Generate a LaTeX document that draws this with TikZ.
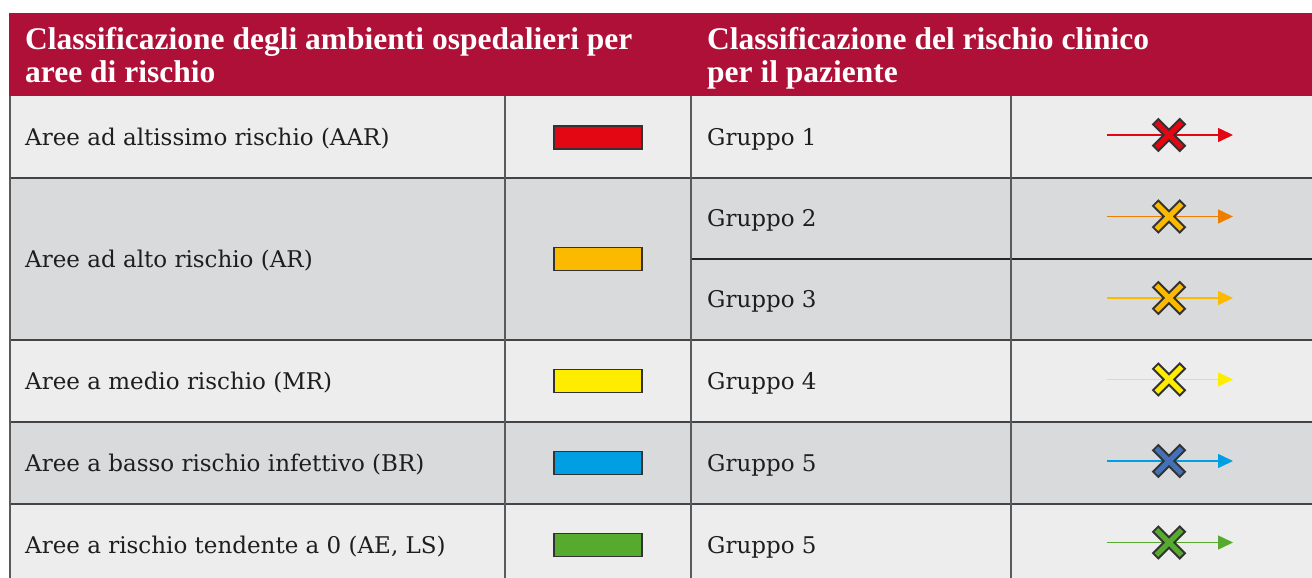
\documentclass[tikz,border=0pt]{standalone}
\usepackage{fontspec}
\setmainfont{DejaVu Serif}
\newfontfamily\hdrfont{Liberation Serif}
\usetikzlibrary{arrows.meta}
\definecolor{hdr}{HTML}{AF1038}
\definecolor{rowA}{HTML}{ECEDEC}
\definecolor{rowB}{HTML}{D9DADC}
\definecolor{gridv}{HTML}{5A5A5A}
\definecolor{gridh}{HTML}{444444}
\definecolor{txt}{HTML}{1E1E1E}
\definecolor{xout}{HTML}{333333}
\definecolor{cRed}{HTML}{E30613}
\definecolor{cOrange}{HTML}{EF7D00}
\definecolor{cAmber}{HTML}{FBBA00}
\definecolor{cYellow}{HTML}{FFED00}
\definecolor{cCyan}{HTML}{009FE3}
\definecolor{cBlue}{HTML}{4470B8}
\definecolor{cGreen}{HTML}{56AB2F}
\tikzset{
  hdrtext/.style={anchor=base west, inner sep=0pt, text=white, font=\hdrfont\bfseries\fontsize{31.5}{36}\selectfont},
  bodytext/.style={anchor=base west, inner sep=0pt, text=txt, font=\fontsize{23}{27}\selectfont},
  swatch/.style={draw=xout, line width=1.3pt, minimum width=88pt, minimum height=23pt, inner sep=0pt},
  vline/.style={draw=gridv, line width=1.5pt},
  hline/.style={draw=gridh, line width=1.5pt},
  sym/.style={line width=1.5pt, -{Triangle[length=15pt,width=14pt]}},
  xmark/.pic={
    \draw[xout, line width=9.5pt] (-14,-14) -- (14,14) (-14,14) -- (14,-14);
    \draw[#1, line width=5pt] (-12.6,-12.6) -- (12.6,12.6) (-12.6,12.6) -- (12.6,-12.6);
  }
}
\begin{document}
\begin{tikzpicture}[x=1pt,y=-1pt]
\useasboundingbox (0,0) rectangle (1312,578);
\fill[white] (0,0) rectangle (1312,578);
% header
\fill[hdr] (9,13) rectangle (1312,96);
% row backgrounds
\fill[rowA] (10,96) rectangle (1312,178);
\fill[rowB] (10,178) rectangle (1312,340);
\fill[rowA] (10,340) rectangle (1312,422);
\fill[rowB] (10,422) rectangle (1312,504);
\fill[rowA] (10,504) rectangle (1312,578);
% grid
\draw[hline] (10,178) -- (1312,178);
\draw[hline, draw=black!85] (691,259) -- (1312,259);
\draw[hline] (10,340) -- (1312,340);
\draw[hline] (10,422) -- (1312,422);
\draw[hline] (10,504) -- (1312,504);
\draw[vline] (10,96) -- (10,578);
\draw[vline] (505,96) -- (505,578);
\draw[vline] (691,96) -- (691,578);
\draw[vline] (1011,96) -- (1011,578);
% header texts
\node[hdrtext] (hL1) at (25,50) {Classificazione degli ambienti ospedalieri per};
\node[hdrtext] (hL2) at (25,82) {aree di rischio};
\node[hdrtext] (hR1) at (707,50) {Classificazione del rischio clinico};
\node[hdrtext] (hR2) at (707,82) {per il paziente};
% left texts
\node[bodytext] (l1) at (25,145) {Aree ad altissimo rischio (AAR)};
\node[bodytext] (l2) at (25,267) {Aree ad alto rischio (AR)};
\node[bodytext] (l3) at (25,389) {Aree a medio rischio (MR)};
\node[bodytext] (l4) at (25,471) {Aree a basso rischio infettivo (BR)};
\node[bodytext] (l5) at (25,553) {Aree a rischio tendente a 0 (AE, LS)};
% swatches
\node[swatch, fill=cRed] (s1) at (598,137.5) {};
\node[swatch, fill=cAmber] (s2) at (598,259) {};
\node[swatch, fill=cYellow] (s3) at (598,381) {};
\node[swatch, fill=cCyan] (s4) at (598,463) {};
\node[swatch, fill=cGreen] (s5) at (598,545) {};
% group texts
\node[bodytext] (g1) at (707,145) {Gruppo 1};
\node[bodytext] (g2) at (707,226.5) {Gruppo 2};
\node[bodytext] (g3) at (707,307.5) {Gruppo 3};
\node[bodytext] (g4) at (707,389) {Gruppo 4};
\node[bodytext] (g5) at (707,471) {Gruppo 5};
\node[bodytext] (g6) at (707,553) {Gruppo 5};
% symbols
\foreach \i/\y/\lc/\xc in {1/135/cRed/cRed, 2/216.5/cOrange/cAmber, 3/298/cAmber/cAmber, 4/379.5/cYellow/cYellow, 5/461/cCyan/cBlue, 6/542.5/cGreen/cGreen}{
  \coordinate (a\i s) at (1107,\y);
  \coordinate (a\i e) at (1233,\y);
  \coordinate (x\i) at (1169,\y);
  \draw[sym, \lc] (a\i s) -- (a\i e);
  \pic at (x\i) {xmark=\xc};
}
\end{tikzpicture}
\end{document}
